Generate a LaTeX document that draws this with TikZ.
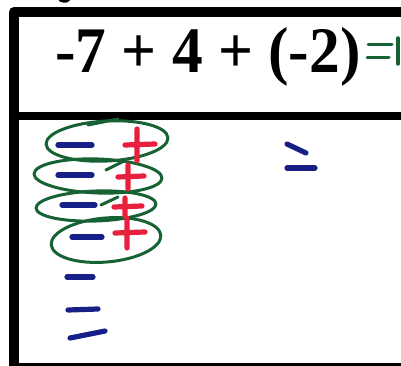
\documentclass[tikz,border=0pt]{standalone}
\usepackage{fontspec}
\setmainfont{Liberation Serif}
\usepackage{xcolor}
\definecolor{penblue}{RGB}{22,32,135}
\definecolor{penred}{RGB}{232,32,62}
\definecolor{pengreen}{RGB}{22,98,52}

\begin{document}
\begin{tikzpicture}[x=1pt,y=-1pt,line cap=round,line join=round,
  minus/.style={penblue,line width=5.2},
  plus/.style={penred,line width=5.2},
  loop/.style={pengreen,line width=3}]
\useasboundingbox (0,0) rectangle (401,366);

\draw[line width=3] (60,0) .. controls (66,2) .. (70,-2);
\draw[line width=10] (14,366) -- (14,12) -- (402,12);
\draw[line width=8] (14,116) -- (402,116);
\draw[line width=3] (14,364.5) -- (402,364.5);

\node[anchor=base west,inner sep=0,font=\fontsize{65}{65}\selectfont\bfseries] (sum) at (55,73) {\scalebox{0.945}[1]{-7 + 4 + (-2)}};

\draw[pengreen,line width=3] (368,45) -- (392,45);
\draw[pengreen,line width=3] (367,58) -- (389,58);
\draw[pengreen,line width=3.5] (398,38) -- (398,64);

\draw[loop,rotate around={3:(107,141)}] (107,141) ellipse [x radius=61,y radius=20];
\draw[loop] (88,125) -- (118,119);
\draw[loop,rotate around={-2:(98,176)}] (98,176) ellipse [x radius=64,y radius=17];
\draw[loop] (106,170) -- (124,161);
\draw[loop,rotate around={2:(96,206)}] (96,206) ellipse [x radius=60,y radius=15];
\draw[loop] (101,205) -- (118,197);
\draw[loop,rotate around={5:(106,240)}] (106,240) ellipse [x radius=55,y radius=22];

\foreach \ya/\yb/\xa/\xb in {145/145/58/92, 175/175/58/92, 205/205/62/95, 237/237/72/102,
    277/277/67/93, 310/309/68/98, 338/331/70/105}
  \draw[minus] (\xa,\ya) -- (\xb,\yb);

\foreach \cx/\cy/\w/\h in {137/145/12/16, 128/177/10/12, 125/207/11/9, 127/233/12/15}
  \draw[plus] (\cx-\w,\cy) -- (\cx+\w+6,\cy-1) (\cx,\cy-\h) -- (\cx,\cy+\h);

\draw[minus] (287,144) -- (306,153);
\draw[minus] (287,168) -- (315,168);
\end{tikzpicture}
\end{document}
